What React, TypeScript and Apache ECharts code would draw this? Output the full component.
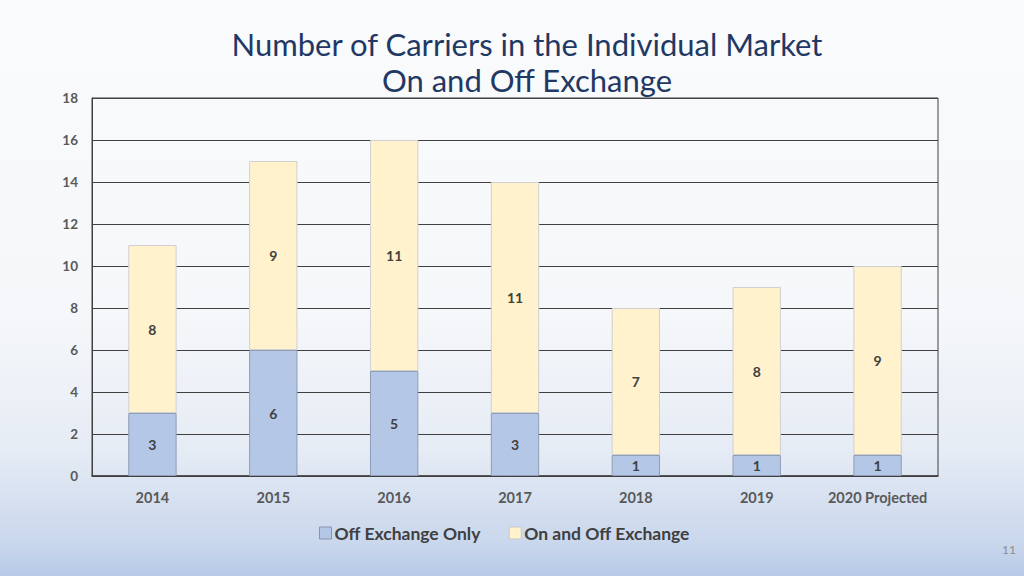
import React, { useEffect, useRef } from "react";
import * as echarts from "echarts";

const categories = ["2014", "2015", "2016", "2017", "2018", "2019", "2020 Projected"];
const offExchangeOnly = [3, 6, 5, 3, 1, 1, 1];
const onAndOffExchange = [8, 9, 11, 11, 7, 8, 9];
const yTicks = { min: 0, max: 18, interval: 2 };

const FONT = "Lato, 'Open Sans', sans-serif";

export default function App() {
  const ref = useRef<HTMLDivElement>(null);
  useEffect(() => {
    if (!ref.current) return;
    const chart = echarts.init(ref.current, null, { renderer: "svg" });
    const labelStyle = {
      show: true,
      position: "inside",
      fontFamily: FONT,
      fontWeight: "bold",
      fontSize: 14,
      color: "#404040",
    };
    chart.setOption({
      animation: false,
      backgroundColor: new echarts.graphic.LinearGradient(0, 0, 0, 1, [
        { offset: 0, color: "#fafbfc" },
        { offset: 0.55, color: "#f5f7fa" },
        { offset: 0.78, color: "#e6ecf5" },
        { offset: 0.95, color: "#c8d6ec" },
        { offset: 1, color: "#b6c9e6" },
      ]),
      title: {
        text: "Number of Carriers in the Individual Market\nOn and Off Exchange",
        left: 522,
        textAlign: "center",
        top: 21,
        textStyle: {
          fontFamily: FONT,
          fontWeight: "normal",
          fontSize: 31,
          lineHeight: 36,
          color: "#1f3864",
        },
      },
      grid: {
        left: 92,
        right: 86,
        top: 98,
        bottom: 100,
        show: true,
        borderColor: "#404040",
        borderWidth: 1,
        backgroundColor: "transparent",
      },
      legend: {
        bottom: 29,
        left: 314,
        icon: "rect",
        itemWidth: 12,
        itemHeight: 12,
        itemGap: 28,
        textStyle: {
          fontFamily: FONT,
          fontWeight: "bold",
          fontSize: 17.5,
          color: "#404040",
          padding: [0, 0, 0, -2],
        },
        data: [
          { name: "Off Exchange Only", itemStyle: { borderColor: "#8794aa", borderWidth: 1 } },
          { name: "On and Off Exchange", itemStyle: { borderColor: "#c8c8c8", borderWidth: 1 } },
        ],
      },
      xAxis: {
        type: "category",
        data: categories,
        axisLine: { show: true, lineStyle: { color: "#404040", width: 1.5 } },
        axisTick: { show: false },
        axisLabel: {
          interval: 0,
          fontFamily: FONT,
          fontWeight: "bold",
          fontSize: 14.5,
          color: "#595959",
          margin: 14,
        },
      },
      yAxis: {
        type: "value",
        min: yTicks.min,
        max: yTicks.max,
        interval: yTicks.interval,
        axisLine: { show: true, lineStyle: { color: "#404040" } },
        axisTick: { show: false },
        splitLine: { lineStyle: { color: "#404040", width: 1 } },
        axisLabel: {
          fontFamily: FONT,
          fontWeight: "bold",
          fontSize: 13.5,
          color: "#595959",
          margin: 14,
        },
      },
      series: [
        {
          name: "Off Exchange Only",
          type: "bar",
          stack: "total",
          barWidth: "40%",
          data: offExchangeOnly,
          itemStyle: { color: "#b4c7e7", borderColor: "#8f9db5", borderWidth: 1 },
          label: labelStyle,
        },
        {
          name: "On and Off Exchange",
          type: "bar",
          stack: "total",
          barWidth: "40%",
          data: onAndOffExchange,
          itemStyle: { color: "#fff2cc", borderColor: "#d0d0d0", borderWidth: 1 },
          label: labelStyle,
        },
      ],
      graphic: [
        {
          type: "text",
          right: 8,
          top: 543,
          style: {
            text: "11",
            fontFamily: FONT,
            fontSize: 12,
            fill: "#8c8c8c",
          },
        },
      ],
    });
    return () => chart.dispose();
  }, []);
  return (
    <div
      ref={ref}
      style={{ position: "fixed", left: 0, top: 0, width: 1024, height: 576 }}
    />
  );
}
